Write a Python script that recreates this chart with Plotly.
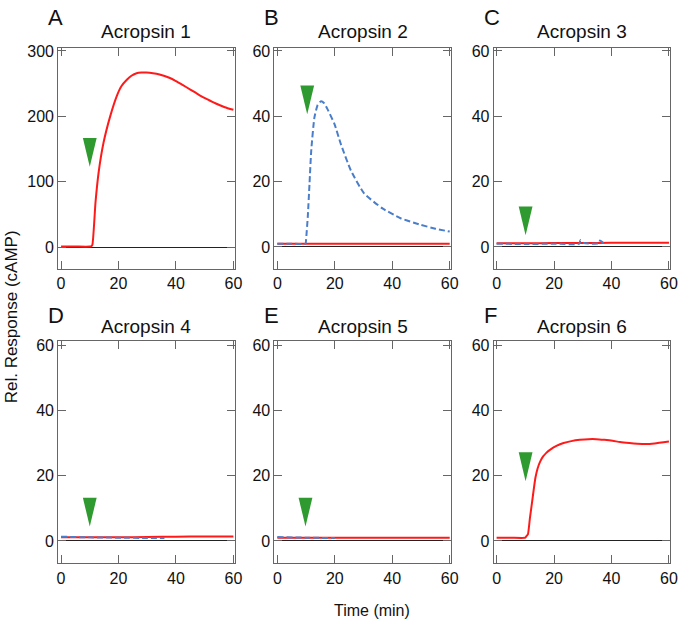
import plotly.graph_objects as go

# ---------------- data ----------------
titles = ["Acropsin 1", "Acropsin 2", "Acropsin 3", "Acropsin 4", "Acropsin 5", "Acropsin 6"]
letters = ["A", "B", "C", "D", "E", "F"]

red_a_t = [0, 5, 10, 10.5, 10.9, 12.0, 13.1, 14.8, 17.1, 19.4, 21, 22.9, 24.5, 26.3, 28, 29.7, 32, 34.3, 37.7, 40, 42.3, 45, 48, 51, 53.7, 57, 60]
red_a_y = [1, 1, 1, 1.5, 3.5, 69, 115, 160, 200, 231, 246, 256, 262, 266, 267, 267, 266, 264, 259, 254, 248, 241, 233, 226, 220, 214, 210]

red_b_t = [0, 10, 20, 30, 40, 50, 60]
red_b_y = [1, 1, 1, 1, 1, 1, 1]
blue_b_t = [0, 5, 9.8, 10.0, 10.6, 11.2, 11.8, 12.9, 14, 15.2, 16.3, 17.5, 19.9, 22.1, 25.6, 30.2, 36.6, 42.9, 49.8, 55, 60]
blue_b_y = [1.0, 1.0, 1.0, 2.2, 9.3, 19.4, 29.5, 39.6, 43.4, 44.6, 44.0, 42.1, 37.6, 31.5, 23.4, 16.4, 11.8, 8.8, 6.8, 5.6, 4.7]

red_c_t = [0, 10, 20, 30, 40, 50, 60]
red_c_y = [1.1, 1.1, 1.2, 1.2, 1.3, 1.3, 1.3]
blue_c_t = [0, 10, 20, 28.8, 29.2, 30.5, 35.6, 36.0, 37.2, 38.2]
blue_c_y = [1.0, 0.9, 1.0, 1.0, 2.1, 1.2, 1.1, 2.0, 1.2, 1.1]

red_d_t = [0, 10, 20, 30, 40, 50, 60]
red_d_y = [1.1, 1.1, 1.1, 1.2, 1.3, 1.4, 1.4]
blue_d_t = [0, 10, 20, 30, 36]
blue_d_y = [1.3, 1.1, 1.0, 0.9, 0.9]

red_e_t = [0, 10, 20, 30, 40, 50, 60]
red_e_y = [1.0, 1.0, 1.0, 1.0, 1.0, 1.0, 1.0]
blue_e_t = [0, 10, 20]
blue_e_y = [1.2, 1.0, 0.9]

red_f_t = [0, 5, 10, 10.4, 10.9, 11.6, 12.4, 13.5, 14.3, 15.2, 16.2, 17.3, 18.7, 21, 23.3, 26, 29, 32, 34.7, 37.5, 40.4, 43, 46.2, 49, 51.9, 55, 60]
red_f_y = [1, 1, 1, 1.5, 2, 7, 12.2, 19.3, 22.3, 24.4, 25.9, 27.0, 28, 29.2, 30, 30.6, 31, 31.2, 31.2, 31, 30.7, 30.3, 30, 29.8, 29.7, 29.9, 30.5]

red_series = [(red_a_t, red_a_y), (red_b_t, red_b_y), (red_c_t, red_c_y),
              (red_d_t, red_d_y), (red_e_t, red_e_y), (red_f_t, red_f_y)]
blue_series = [None, (blue_b_t, blue_b_y), (blue_c_t, blue_c_y),
               (blue_d_t, blue_d_y), (blue_e_t, blue_e_y), None]

stim_time = [10, 10.4, 10.1, 10, 9.8, 10.1]
arrow_tip = [123, 40.6, 3.6, 4.4, 4.4, 18.3]

y_ranges = [[-33, 305], [-6.7, 61], [-6.7, 61], [-6.9, 61.2], [-6.9, 61.2], [-6.9, 61.2]]
y_ticks = [[0, 100, 200, 300], [0, 20, 40, 60], [0, 20, 40, 60], [0, 20, 40, 60], [0, 20, 40, 60], [0, 20, 40, 60]]
x_ticks = [0, 20, 40, 60]

# ---------------- layout geometry (page pixels) ----------------
W, H = 685, 620
col_px = [(57, 236), (276.5, 455.5), (499, 678)]
row_px = [(43, 266), (339, 563)]
title_mid = [27, 324]
letter_mid = [12.5, 313]
letter_x = [45, 264, 487]

RED = "#ff1a1a"
BLUE = "#4a7ecb"
GREEN = "#2f9a2f"
AXC = "#666666"
FONT = "Arial, Liberation Sans, sans-serif"


def px(v):
    return v / W


def py(v):
    return (H - v) / H


fig = go.Figure()
layout = dict(
    width=W, height=H, margin=dict(l=0, r=0, t=0, b=0),
    paper_bgcolor="white", plot_bgcolor="white", showlegend=False,
    font=dict(family=FONT, color="#111", size=16),
)
annotations = []

for i in range(6):
    r, c = divmod(i, 3)
    xa = "x" if i == 0 else f"x{i+1}"
    ya = "y" if i == 0 else f"y{i+1}"
    xkey = "xaxis" if i == 0 else f"xaxis{i+1}"
    ykey = "yaxis" if i == 0 else f"yaxis{i+1}"
    x0, x1 = col_px[c]
    yt, yb = row_px[r]
    layout[xkey] = dict(
        domain=[px(x0), min(px(x1), 1.0)], anchor=ya, range=[-1.0, 60.4],
        tickvals=x_ticks, ticks="inside", ticklen=8, tickcolor=AXC,
        showline=True, linecolor=AXC, linewidth=1, mirror="ticks",
        showgrid=False, zeroline=False, tickfont=dict(size=16),
    )
    layout[ykey] = dict(
        domain=[py(yb), py(yt)], anchor=xa, range=y_ranges[i],
        tickvals=y_ticks[i], ticks="inside", ticklen=8, tickcolor=AXC,
        showline=True, linecolor=AXC, linewidth=1, mirror="ticks",
        showgrid=False, zeroline=True, zerolinecolor="#222", zerolinewidth=1,
        tickfont=dict(size=16),
    )
    rt, rv = red_series[i]
    fig.add_trace(go.Scatter(x=rt, y=rv, mode="lines", xaxis=xa, yaxis=ya,
                             line=dict(color=RED, width=2, shape="spline", smoothing=0.5)))
    bs = blue_series[i]
    if bs is not None:
        fig.add_trace(go.Scatter(x=bs[0], y=bs[1], mode="lines", xaxis=xa, yaxis=ya,
                                 line=dict(color=BLUE, width=2, dash="6px,3px",
                                           shape="spline", smoothing=0.5)))
    # stimulus arrowhead (tall narrow triangle)
    span = y_ranges[i][1] - y_ranges[i][0]
    h = span * 29 / 223
    hw = 2.4
    s, tip = stim_time[i], arrow_tip[i]
    fig.add_trace(go.Scatter(x=[s - hw, s + hw, s, s - hw], y=[tip + h, tip + h, tip, tip + h],
                             mode="lines", fill="toself", fillcolor=GREEN,
                             line=dict(color=GREEN, width=0), xaxis=xa, yaxis=ya,
                             hoverinfo="skip"))
    annotations.append(dict(text=titles[i], x=px((x0 + x1) / 2), y=py(title_mid[r]),
                            xref="paper", yref="paper", xanchor="center", yanchor="middle",
                            showarrow=False, font=dict(size=19, family=FONT, color="#111")))
    annotations.append(dict(text=letters[i], x=px(letter_x[c]), y=py(letter_mid[r]),
                            xref="paper", yref="paper", xanchor="left", yanchor="middle",
                            showarrow=False, font=dict(size=22, family=FONT, color="#111")))

annotations.append(dict(text="Rel. Response (cAMP)", x=px(10), y=py(314), xref="paper", yref="paper",
                        textangle=-90, showarrow=False, xanchor="center", yanchor="middle",
                        font=dict(size=17, family=FONT, color="#111")))
annotations.append(dict(text="Time (min)", x=px(375), y=py(610), xref="paper", yref="paper",
                        showarrow=False, xanchor="center", yanchor="middle",
                        font=dict(size=16, family=FONT, color="#111")))
layout["annotations"] = annotations
fig.update_layout(**layout)
fig.write_html("out.html", config={"displayModeBar": False},
               post_script="document.body.style.margin='0';")
